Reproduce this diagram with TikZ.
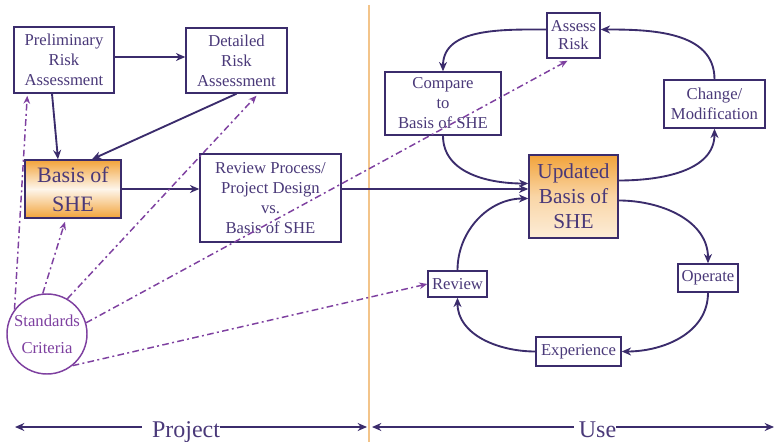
\documentclass[tikz,border=0pt]{standalone}
\usepackage{fontspec}
\setmainfont{Liberation Serif}
\usetikzlibrary{arrows.meta,calc}

\definecolor{ink}{HTML}{3B2C6C}
\definecolor{txt}{HTML}{4A3979}
\definecolor{crit}{HTML}{7E40A0}
\definecolor{org}{HTML}{F2A33A}
\definecolor{rulec}{HTML}{F3C48A}

\tikzset{
  box/.style={draw=ink,line width=1.1pt,fill=white,text=txt,inner sep=0pt,align=center,
    font=\fontsize{12.5}{15}\selectfont},
  shebox/.style={box,top color=org,bottom color=org,middle color=org!10},
  flow/.style={draw=ink,line width=1.4pt,-{Stealth[length=7pt,width=6pt]}},
  crit/.style={draw=crit,line width=1.1pt,dash pattern=on 5pt off 2.5pt on 1.5pt off 2.5pt,
    -{Stealth[length=6pt,width=5pt]}},
  span/.style={draw=ink,line width=1.4pt},
  phase/.style={anchor=base,inner sep=0pt,text=txt,font=\fontsize{18}{20}\selectfont}
}

\begin{document}
\begin{tikzpicture}[x=0.75pt,y=-0.75pt]
\useasboundingbox (0,0) rectangle (775,442);
\draw[rulec,line width=0.8pt] (369,5) -- (369,442);

% project side
\node[box,minimum width=75pt,minimum height=49.5pt] (prelim) at (64,60) {Preliminary\\Risk\\Assessment};
\node[box,minimum width=75.75pt,minimum height=48.75pt] (detail) at (236.5,60.5) {Detailed\\Risk\\Assessment};
\node[shebox,minimum width=72pt,minimum height=43.5pt,font=\fontsize{16.5}{21.75}\selectfont] (basis) at (73,189) {Basis of\\SHE};
\node[box,minimum width=105.75pt,minimum height=66pt] (review) at (270.5,198) {Review Process/\\Project Design\\vs.\\Basis of SHE};
\node[circle,draw=crit,line width=1.1pt,fill=white,text=crit,inner sep=0pt,minimum size=60pt,align=center,
  font=\fontsize{12.5}{20}\selectfont] (std) at (47,334) {Standards\\Criteria};

% use side
\node[box,minimum width=39.75pt,minimum height=33.75pt,font=\fontsize{12.5}{13.5}\selectfont] (assess) at (573.5,35.5) {Assess\\Risk};
\node[box,minimum width=87pt,minimum height=47.25pt] (compare) at (443,103.5) {Compare\\to\\Basis of SHE};
\node[box,minimum width=75.75pt,minimum height=36pt] (change) at (714.5,104) {Change/\\Modification};
\node[box,minimum width=66.75pt,minimum height=62.25pt,top color=org,bottom color=org!20,middle color=org!45,
  font=\fontsize{16}{18.75}\selectfont] (updated) at (573.5,196.5) {Updated\\Basis of\\SHE};
\node[box,minimum width=44.25pt,minimum height=19.5pt] (rev) at (457.5,284) {Review};
\node[box,minimum width=45pt,minimum height=21pt] (operate) at (708,278) {Operate};
\node[box,minimum width=63.75pt,minimum height=21.75pt] (exper) at (578.5,351.5) {Experience};

\draw[flow] (prelim.east |- 0,57) -- (detail.west |- 0,57);
\draw[flow] ($(prelim.south)+(-12,0)$) -- ($(basis.north)+(-15,0)$);
\draw[flow] (detail.south) -- ($(basis.north)+(19,0)$);
\draw[flow] (basis.east) -- (basis.east -| review.west);
\draw[flow] (review.east |- basis.east) -- (updated.west |- basis.east);

\draw[flow] ($(assess.west)+(0,-6)$) to[out=180,in=90] (compare.north);
\draw[flow] (change.north) to[out=90,in=0] ($(assess.east)+(0,-6)$);
\draw[flow] (compare.south) to[out=-90,in=180] ($(updated.west)+(0,-13)$);
\draw[flow] ($(updated.east)+(0,-16)$) to[out=0,in=-90] (change.south);
\draw[flow] (rev.north) to[out=90,in=180] ($(updated.west)+(0,2)$);
\draw[flow] ($(updated.east)+(0,4)$) to[out=0,in=90] (operate.north);
\draw[flow] (operate.south) to[out=-90,in=0] (exper.east);
\draw[flow] (exper.west) to[out=180,in=-90] (rev.south);

\draw[crit] (std.143) -- ($(prelim.south west)+(14,2)$);
\draw[crit] (std.96) -- ($(basis.south)+(-8,3)$);
\draw[crit] (std.60) -- ($(detail.south)+(20,2)$);
\draw[crit] (std.16) -- ($(assess.south)+(-6,2)$);
\draw[crit] (std.-51) -- (rev.west);

% phases
\coordinate (pL) at (15,427);
\coordinate (pR) at (367,427);
\node[phase] (proj) at (186,437) {Project};
\draw[span,<-,>={Stealth[length=7pt,width=6pt]}] (pL) -- ($(pL -| proj.west)+(-10,0)$);
\draw[span,->,>={Stealth[length=7pt,width=6pt]}] (pR -| proj.east) -- (pR);
\coordinate (uL) at (372,427);
\coordinate (uR) at (774,427);
\node[phase] (use) at (597.5,437) {Use};
\draw[span,<-,>={Stealth[length=7pt,width=6pt]}] (uL) -- ($(uL -| use.west)+(-5,0)$);
\draw[span,->,>={Stealth[length=7pt,width=6pt]}] (uR -| use.east) -- (uR);
\end{tikzpicture}
\end{document}
